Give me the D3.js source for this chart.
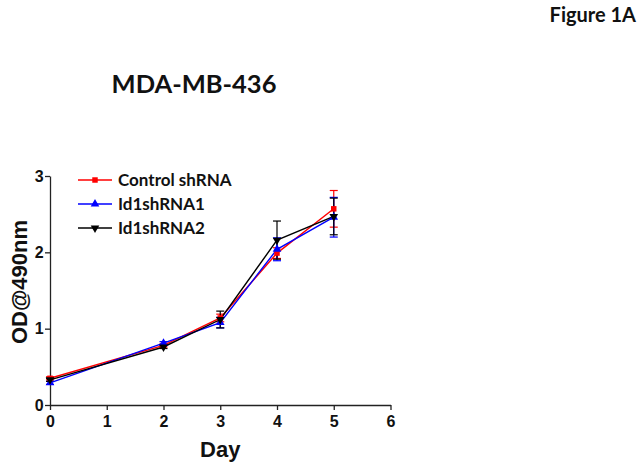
<!DOCTYPE html>
<html><head><meta charset="utf-8">
<script src="https://cdn.jsdelivr.net/npm/d3@7"></script>
<style>body{margin:0;background:#fff}svg{display:block}</style>
</head><body>
<script>
const days = [0, 2, 3, 4, 5];
const seriesNames = ["Control shRNA", "Id1shRNA1", "Id1shRNA2"];
const controlMean = [0.35, 0.78, 1.14, 1.99, 2.57];
const controlErr  = [0.02, 0.02, 0.05, 0.07, 0.24];
const id1Mean     = [0.29, 0.81, 1.08, 2.04, 2.46];
const id1Err      = [0.02, 0.02, 0.07, 0.15, 0.26];
const id2Mean     = [0.33, 0.76, 1.12, 2.16, 2.47];
const id2Err      = [0.02, 0.02, 0.11, 0.25, 0.24];
const colors = ["#ff0000", "#0000ff", "#000000"];
const xTicks = [0, 1, 2, 3, 4, 5, 6];
const yTicks = [0, 1, 2, 3];

const W = 639, H = 462;
const svg = d3.select("body").append("svg").attr("width", W).attr("height", H);
const x = d3.scaleLinear().domain([0, 6]).range([50, 390.5]);
const y = d3.scaleLinear().domain([0, 3]).range([405, 176]);

const means = [controlMean, id1Mean, id2Mean];
const errs = [controlErr, id1Err, id2Err];
const series = seriesNames.map((n, i) => ({name: n, color: colors[i],
  pts: days.map((d, j) => ({d, m: means[i][j], e: errs[i][j]}))}));

// axes
const xAxis = svg.append("g").attr("transform", `translate(0,${y(0)})`)
  .call(d3.axisBottom(x).tickValues(xTicks).tickFormat(d3.format("d")).tickSize(5).tickSizeOuter(0));
const yAxis = svg.append("g").attr("transform", `translate(${x(0)},0)`)
  .call(d3.axisLeft(y).tickValues(yTicks).tickFormat(d3.format("d")).tickSize(5).tickSizeOuter(0));
[xAxis, yAxis].forEach(a => {
  a.selectAll("path,line").attr("stroke", "#222").attr("stroke-width", 1.3);
  a.selectAll("text").attr("font-family", "Liberation Sans, Arial, sans-serif")
    .attr("font-weight", "bold").attr("font-size", 16).attr("fill", "#111");
});
xAxis.selectAll("text").attr("dy", "0.9em");
yAxis.selectAll("text").attr("dx", "0.1em");

// error bars
const cap = 4;
series.forEach(s => {
  const g = svg.append("g").attr("stroke", s.color).attr("stroke-width", 1.2);
  s.pts.forEach(p => {
    g.append("line").attr("x1", x(p.d)).attr("x2", x(p.d)).attr("y1", y(p.m - p.e)).attr("y2", y(p.m + p.e));
    [p.m - p.e, p.m + p.e].forEach(v => g.append("line")
      .attr("x1", x(p.d) - cap).attr("x2", x(p.d) + cap).attr("y1", y(v)).attr("y2", y(v)));
  });
});

// lines
const line = d3.line().x(p => x(p.d)).y(p => y(p.m));
series.forEach(s => {
  svg.append("path").datum(s.pts).attr("d", line).attr("fill", "none")
    .attr("stroke", s.color).attr("stroke-width", 1.4);
});

// markers
const markerTypes = [d3.symbolSquare, d3.symbolTriangle, d3.symbolTriangle];
function marker(g, i, cx, cy) {
  const path = d3.symbol().type(markerTypes[i]).size(i === 0 ? 30 : 32)();
  g.append("path").attr("d", path)
    .attr("transform", `translate(${cx},${cy})` + (i === 2 ? " rotate(180)" : ""))
    .attr("fill", colors[i]);
}
series.forEach((s, i) => {
  const g = svg.append("g");
  s.pts.forEach(p => marker(g, i, x(p.d), y(p.m)));
});

// legend
const lg = svg.append("g");
seriesNames.forEach((n, i) => {
  const ly = 180 + i * 24;
  lg.append("line").attr("x1", 78).attr("x2", 112).attr("y1", ly).attr("y2", ly)
    .attr("stroke", colors[i]).attr("stroke-width", 1.4);
  marker(lg, i, 95, ly);
  lg.append("text").attr("x", 118).attr("y", ly).attr("dy", "0.35em")
    .attr("font-family", "Lato, 'Open Sans', sans-serif").attr("font-weight", "bold")
    .attr("font-size", 17).attr("fill", "#111").text(n);
});

// axis titles
svg.append("text").attr("x", x(3)).attr("y", 457).attr("text-anchor", "middle")
  .attr("font-family", "Liberation Sans, Arial, sans-serif").attr("font-weight", "bold")
  .attr("font-size", 22).attr("fill", "#111").text("Day");
svg.append("text").attr("transform", `translate(27,282) rotate(-90)`).attr("text-anchor", "middle")
  .attr("font-family", "Liberation Sans, Arial, sans-serif").attr("font-weight", "bold")
  .attr("font-size", 22).attr("fill", "#111").text("OD@490nm");

// titles
svg.append("text").attr("x", 194).attr("y", 93).attr("text-anchor", "middle")
  .attr("font-family", "Lato, 'Open Sans', sans-serif").attr("font-weight", "bold")
  .attr("font-size", 25.5).attr("fill", "#111").text("MDA-MB-436");
svg.append("text").attr("x", 636).attr("y", 22).attr("text-anchor", "end")
  .attr("font-family", "Lato, 'Open Sans', sans-serif").attr("font-weight", "bold")
  .attr("font-size", 20).attr("fill", "#111").text("Figure 1A");
</script>
</body></html>
